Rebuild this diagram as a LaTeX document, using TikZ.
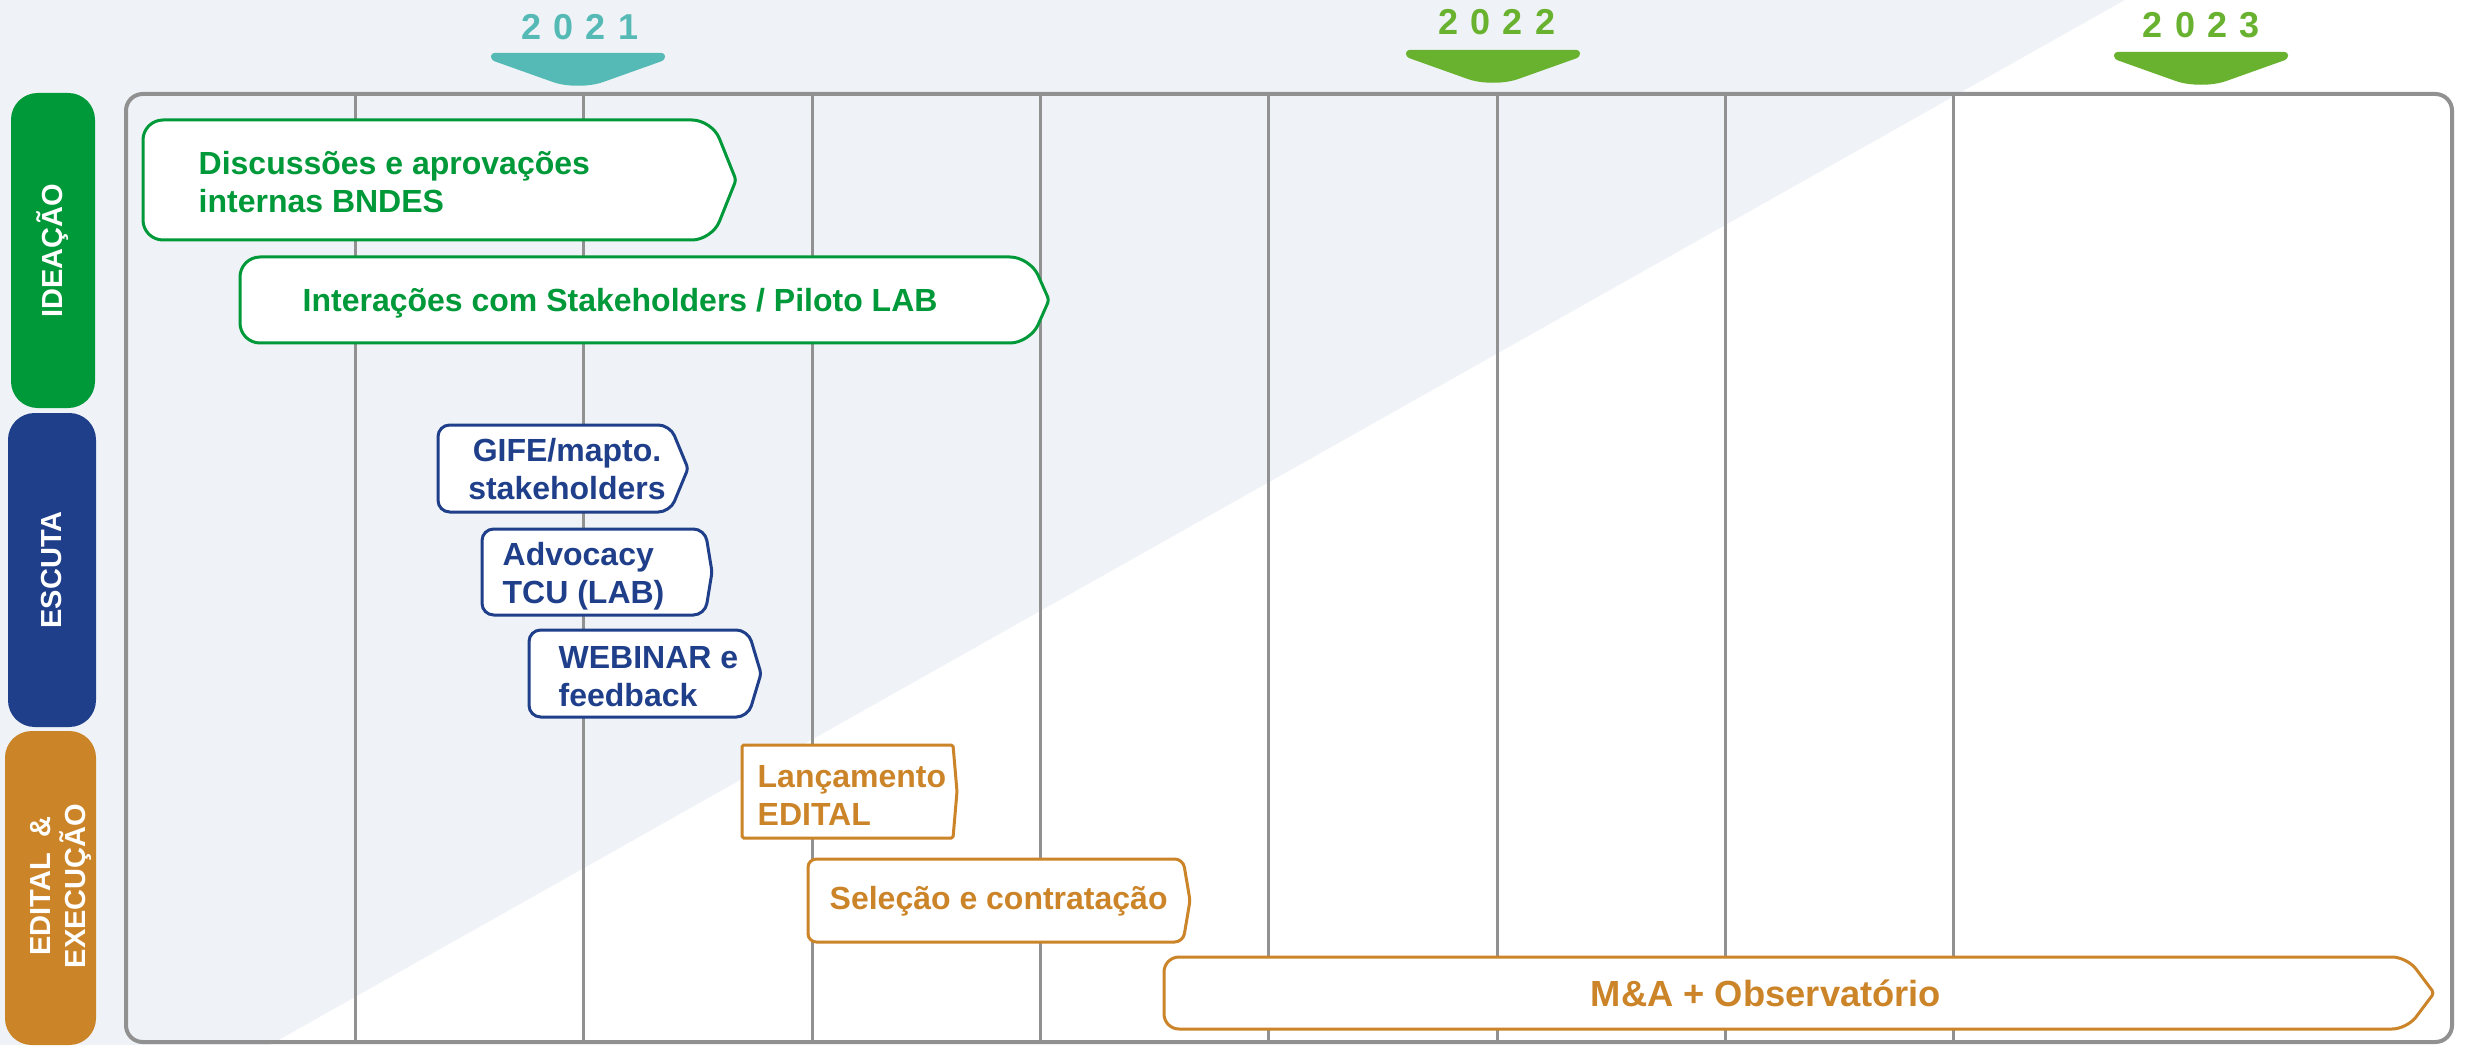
\documentclass[tikz,border=0pt]{standalone}
\usepackage{fontspec}
\setmainfont{Liberation Sans}
\definecolor{bgc}{RGB}{239,243,247}
\definecolor{gridc}{RGB}{145,145,145}
\definecolor{ideac}{RGB}{0,153,57}
\definecolor{escc}{RGB}{31,63,138}
\definecolor{edc}{RGB}{204,132,41}
\definecolor{tealc}{RGB}{85,186,181}
\definecolor{ygreen}{RGB}{104,178,47}
\newcommand{\tlbox}[8]{% name, x1, y1, bodyR, tip, y2, colour, radius
  \draw[line width=0.9pt, draw=#7, fill=white]
    (#2,{(#3+#6)/2}) [rounded corners=#8] -- (#2,#3) -- (#4,#3)
    [rounded corners=1pt] -- (#5,{(#3+#6)/2})
    [rounded corners=#8] -- (#4,#6) -- (#2,#6) -- cycle;
  \coordinate (#1) at ({(#2+#5)/2},{(#3+#6)/2});
}
\newcommand{\yearmark}[4]{% name, cx, top, colour
  \fill[#4] (#2,#3) [rounded corners=1pt] -- ({#2+87},#3) -- ({#2+87},{#3+7})
    [rounded corners=8pt] -- (#2,{#3+38})
    [rounded corners=1pt] -- ({#2-87},{#3+7}) -- ({#2-87},#3) -- cycle;
  \coordinate (#1) at (#2,{#3+33});
}
\tikzset{
  boxtxt/.style={font=\fontsize{9.6}{11.4}\selectfont\bfseries, inner sep=0pt, align=left},
  phase/.style={font=\fontsize{8.7}{10.8}\selectfont\bfseries, text=white, rotate=90, align=center, inner sep=0pt},
  yeartxt/.style={font=\fontsize{10.8}{12}\selectfont\bfseries, inner sep=0pt},
}
\begin{document}
\begin{tikzpicture}[x=0.3pt,y=-0.3pt]
\useasboundingbox (0,0) rectangle (2465,1045);
% background
\fill[bgc] (0,0) rectangle (2465,1045);
\fill[white] (2125,0) -- (2465,0) -- (2465,1045) -- (270,1045) -- cycle;
% grid
\foreach \gx in {355.5,583.8,812.1,1040.4,1268.7,1497,1725.3,1953.6}
  \draw[gridc, line width=0.9pt] (\gx,94) -- (\gx,1042);
\draw[gridc, line width=1.2pt, rounded corners=5pt] (126,94) rectangle (2452,1042);
% phase bars
\fill[ideac, rounded corners=8pt] (11,93) rectangle (95,408);
\fill[escc, rounded corners=8pt] (8,413) rectangle (96,727);
\fill[edc, rounded corners=8pt] (5,731) rectangle (96,1045);
\node[phase] (pIdea) at (53,251) {IDEAÇÃO};
\node[phase] (pEsc) at (52,570) {ESCUTA};
\node[phase, font=\fontsize{8.7}{10.5}\selectfont\bfseries] (pEd) at (61,886) {EDITAL\ \ \&\\EXECUÇÃO};
% year markers
\yearmark{m2021}{578}{53}{tealc}
\yearmark{m2022}{1493}{50}{ygreen}
\yearmark{m2023}{2201}{52}{ygreen}
\node[yeartxt, text=tealc] (y2021) at (580,27) {2\kern3.6pt0\kern3.6pt2\kern3.6pt1};
\node[yeartxt, text=ygreen] (y2022) at (1497,22) {2\kern3.6pt0\kern3.6pt2\kern3.6pt2};
\node[yeartxt, text=ygreen] (y2023) at (2201,25) {2\kern3.6pt0\kern3.6pt2\kern3.6pt3};
% boxes
\tlbox{b1}{143}{120}{712}{736}{240}{ideac}{6pt}
\node[boxtxt, text=ideac, anchor=base west] (t1) at (198,213) {Discussões e aprovações\\internas BNDES};
\tlbox{b2}{240}{257}{1030}{1049}{343}{ideac}{6pt}
\node[boxtxt, text=ideac, anchor=base west] (t2) at (302,312) {Interações com Stakeholders / Piloto LAB};
\tlbox{b3}{438}{425}{670}{688}{512}{escc}{3.5pt}
\node[boxtxt, text=escc, anchor=base, align=center] (t3) at (567,499) {GIFE/mapto.\\stakeholders};
\tlbox{b4}{482}{529}{705}{712}{615}{escc}{3.5pt}
\node[boxtxt, text=escc, anchor=base west] (t4) at (502,603) {Advocacy\\TCU (LAB)};
\tlbox{b5}{529}{630}{748}{761}{717}{escc}{3.5pt}
\node[boxtxt, text=escc, anchor=base west] (t5) at (558,706) {WEBINAR e\\feedback};
\tlbox{b6}{742}{745}{953}{957}{838}{edc}{0.5pt}
\node[boxtxt, text=edc, anchor=base west] (t6) at (757,825) {Lançamento\\EDITAL};
\tlbox{b7}{808}{859}{1183}{1190}{942}{edc}{2.5pt}
\node[boxtxt, text=edc, anchor=base west] (t7) at (829,909) {Seleção e contratação};
\tlbox{b8}{1164}{957}{2407}{2434}{1029}{edc}{4.5pt}
\node[boxtxt, text=edc, anchor=base, font=\fontsize{10.9}{12}\selectfont\bfseries] (t8) at (1766,1006) {M\&A + Observatório};
\end{tikzpicture}
\end{document}
